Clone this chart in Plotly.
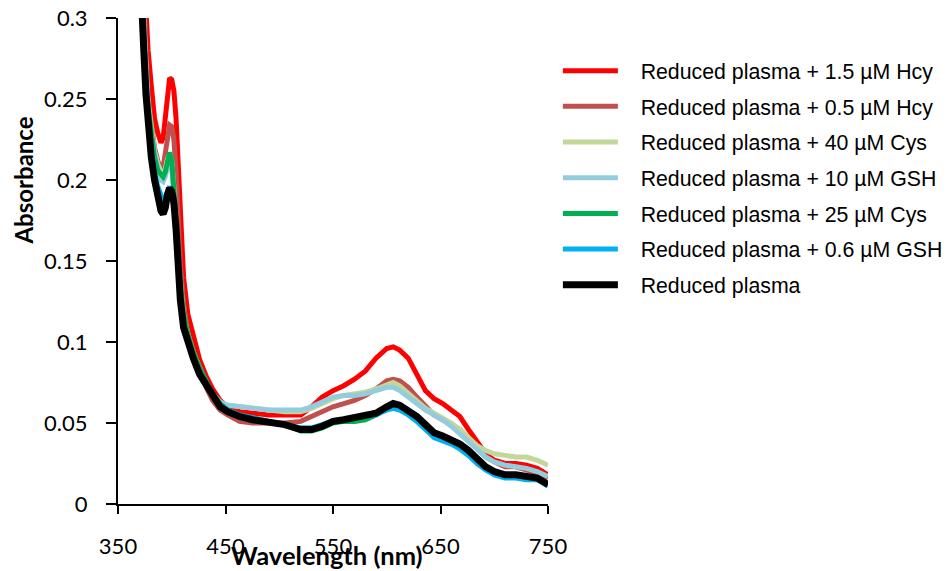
import plotly.graph_objects as go

wavelength = [366, 370, 372, 374, 376, 378, 381, 384, 387, 390, 392, 394, 396, 398, 400,
              402, 404, 406, 408, 411, 415, 420, 426, 432, 438, 445, 452, 463, 475, 490,
              505, 520, 530, 540, 550, 560, 570, 580, 590, 600, 606, 612, 620, 628, 636,
              644, 652, 660, 668, 676, 684, 692, 700, 710, 720, 730, 740, 750]

hcy_15 = [0.45, 0.38, 0.35, 0.325, 0.305, 0.28, 0.258, 0.238, 0.229, 0.223, 0.226, 0.238, 0.255, 0.263, 0.262,
          0.255, 0.238, 0.212, 0.175, 0.140, 0.117, 0.103, 0.089, 0.079, 0.071, 0.064, 0.060, 0.057, 0.056, 0.055,
          0.055, 0.055, 0.060, 0.066, 0.070, 0.073, 0.077, 0.082, 0.090, 0.096, 0.097, 0.095, 0.090, 0.080, 0.070,
          0.065, 0.062, 0.058, 0.054, 0.046, 0.038, 0.031, 0.027, 0.025, 0.025, 0.024, 0.022, 0.018]

hcy_05 = [0.42, 0.36, 0.325, 0.295, 0.27, 0.252, 0.235, 0.22, 0.212, 0.207, 0.208, 0.217, 0.229, 0.234, 0.233,
          0.225, 0.205, 0.175, 0.148, 0.123, 0.105, 0.093, 0.082, 0.072, 0.064, 0.058, 0.055, 0.051, 0.050, 0.050,
          0.050, 0.051, 0.054, 0.057, 0.060, 0.062, 0.064, 0.067, 0.071, 0.076, 0.077, 0.076, 0.072, 0.066, 0.060,
          0.055, 0.052, 0.049, 0.046, 0.040, 0.034, 0.029, 0.026, 0.023, 0.023, 0.021, 0.019, 0.016]

cys_40 = [0.42, 0.35, 0.32, 0.29, 0.265, 0.248, 0.232, 0.218, 0.210, 0.205, 0.204, 0.207, 0.213, 0.216, 0.212,
          0.198, 0.178, 0.152, 0.134, 0.117, 0.105, 0.094, 0.084, 0.075, 0.068, 0.063, 0.061, 0.060, 0.059, 0.058,
          0.057, 0.057, 0.059, 0.062, 0.065, 0.067, 0.068, 0.069, 0.071, 0.074, 0.075, 0.073, 0.068, 0.063, 0.059,
          0.056, 0.053, 0.050, 0.046, 0.041, 0.036, 0.033, 0.031, 0.030, 0.029, 0.029, 0.027, 0.024]

gsh_10 = [0.41, 0.35, 0.32, 0.29, 0.263, 0.245, 0.228, 0.215, 0.207, 0.200, 0.199, 0.202, 0.208, 0.210, 0.206,
          0.192, 0.172, 0.148, 0.132, 0.115, 0.103, 0.093, 0.083, 0.075, 0.068, 0.063, 0.061, 0.060, 0.059, 0.058,
          0.058, 0.058, 0.060, 0.063, 0.066, 0.067, 0.067, 0.068, 0.070, 0.072, 0.072, 0.070, 0.066, 0.062, 0.058,
          0.055, 0.052, 0.048, 0.043, 0.038, 0.033, 0.029, 0.026, 0.024, 0.023, 0.022, 0.020, 0.017]

cys_25 = [0.40, 0.34, 0.31, 0.285, 0.262, 0.245, 0.228, 0.214, 0.206, 0.203, 0.202, 0.205, 0.213, 0.217, 0.212,
          0.195, 0.175, 0.150, 0.134, 0.117, 0.105, 0.094, 0.084, 0.076, 0.068, 0.062, 0.058, 0.055, 0.053, 0.051,
          0.049, 0.045, 0.045, 0.047, 0.050, 0.051, 0.051, 0.052, 0.055, 0.059, 0.061, 0.060, 0.057, 0.053, 0.048,
          0.044, 0.041, 0.039, 0.036, 0.032, 0.027, 0.022, 0.019, 0.017, 0.017, 0.016, 0.015, 0.012]

gsh_06 = [0.38, 0.33, 0.31, 0.285, 0.26, 0.242, 0.222, 0.205, 0.196, 0.189, 0.187, 0.189, 0.194, 0.196, 0.192,
          0.182, 0.165, 0.142, 0.127, 0.111, 0.100, 0.091, 0.081, 0.074, 0.067, 0.061, 0.058, 0.055, 0.053, 0.051,
          0.049, 0.047, 0.047, 0.049, 0.051, 0.052, 0.053, 0.054, 0.055, 0.058, 0.059, 0.058, 0.055, 0.051, 0.046,
          0.041, 0.039, 0.037, 0.034, 0.030, 0.025, 0.021, 0.018, 0.016, 0.016, 0.015, 0.015, 0.011]

plasma = [0.40, 0.35, 0.31, 0.28, 0.253, 0.235, 0.214, 0.200, 0.190, 0.181, 0.179, 0.183, 0.191, 0.195, 0.193,
          0.186, 0.170, 0.142, 0.126, 0.109, 0.099, 0.090, 0.080, 0.073, 0.066, 0.060, 0.057, 0.054, 0.052, 0.051,
          0.049, 0.046, 0.046, 0.048, 0.051, 0.052, 0.053, 0.054, 0.056, 0.060, 0.062, 0.061, 0.058, 0.054, 0.049,
          0.044, 0.042, 0.040, 0.037, 0.033, 0.028, 0.023, 0.020, 0.018, 0.018, 0.017, 0.016, 0.012]

names = ["Reduced plasma + 1.5 µM Hcy", "Reduced plasma + 0.5 µM Hcy", "Reduced plasma + 40 µM Cys",
         "Reduced plasma + 10 µM GSH", "Reduced plasma + 25 µM Cys", "Reduced plasma + 0.6 µM GSH",
         "Reduced plasma"]
series = [hcy_15, hcy_05, cys_40, gsh_10, cys_25, gsh_06, plasma]
colors = ["#ff0000", "#c0504d", "#c3d69b", "#93cddd", "#00b050", "#00b0f0", "#000000"]
widths = [5, 5, 5, 5, 5, 5, 7]

fig = go.Figure()
for i, (name, ys, c, w) in enumerate(zip(names, series, colors, widths)):
    fig.add_trace(go.Scatter(x=wavelength, y=ys, mode="lines", name="\u00a0\u00a0\u00a0" + name,
                             legendgroup=f"g{i}",
                             line=dict(color=c, width=w)))

tick_font = dict(family="Lato, Carlito, sans-serif", size=22, color="#000000")
fig.update_layout(
    width=948, height=571,
    margin=dict(l=118, r=400, t=18, b=67, autoexpand=False),
    paper_bgcolor="white", plot_bgcolor="white",
    showlegend=True,
    legend=dict(x=1.023, y=0.9335, xanchor="left", yanchor="top",
                font=dict(family="Liberation Sans, Arial, sans-serif", size=21.3, color="#000000"),
                tracegroupgap=5, itemwidth=55, traceorder="grouped", bgcolor="rgba(0,0,0,0)"),
    xaxis=dict(range=[350, 750], dtick=100, tick0=350, showline=True, linecolor="black", linewidth=2,
               ticks="outside", ticklen=8, tickwidth=2, tickcolor="black", showgrid=False, zeroline=False,
               tickfont=tick_font, ticklabelstandoff=14, automargin=False),
    yaxis=dict(range=[0, 0.3], dtick=0.05, showline=True, linecolor="black", linewidth=2,
               ticks="outside", ticklen=10, tickwidth=2, tickcolor="black", showgrid=False, zeroline=False,
               tickfont=tick_font, ticklabelstandoff=14, automargin=False),
    annotations=[
        dict(text="<b>Wavelength (nm)</b>", xref="paper", yref="paper", x=0.486, y=-0.105,
             xanchor="center", yanchor="middle", showarrow=False,
             font=dict(family="Lato, Carlito, sans-serif", size=25.5, color="#000000")),
        dict(text="<b>Absorbance</b>", xref="paper", yref="paper", x=-0.2186, y=0.6656,
             xanchor="center", yanchor="middle", showarrow=False, textangle=-90,
             font=dict(family="Lato, Carlito, sans-serif", size=24, color="#000000")),
    ],
)

fig.write_html("out.html")
